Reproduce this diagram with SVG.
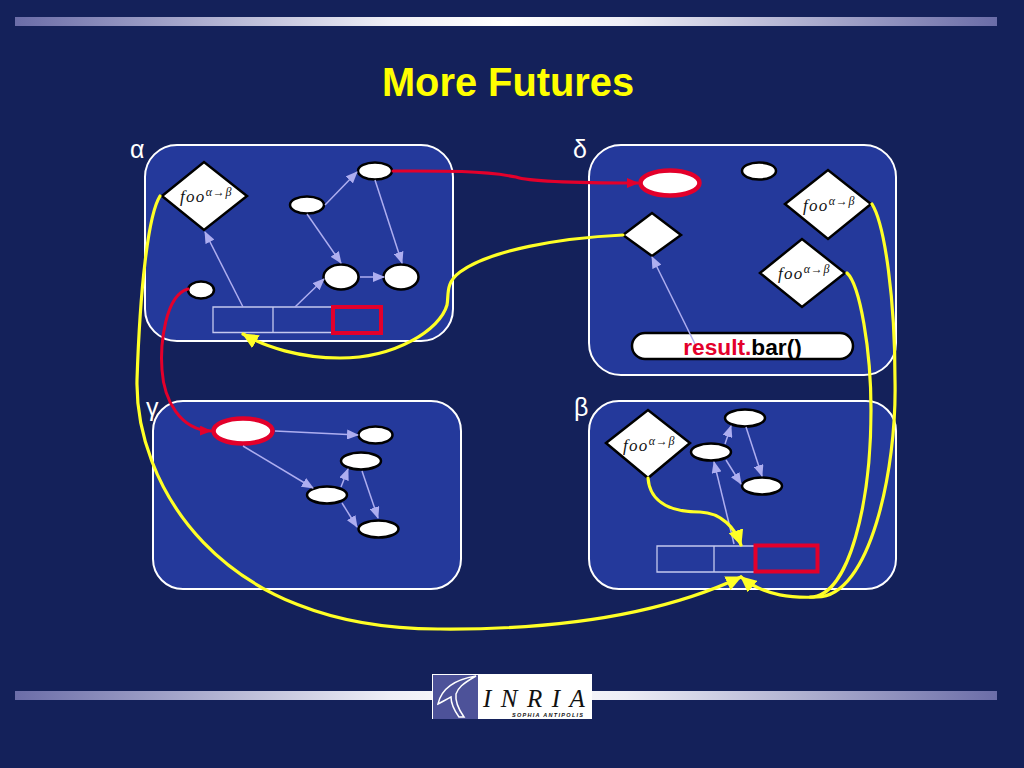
<svg xmlns="http://www.w3.org/2000/svg" width="1024" height="768" viewBox="0 0 1024 768">
<style>
.panel{fill:#24399b;stroke:#fff;stroke-width:2}
.n{fill:#fff;stroke:#000;stroke-width:2.5}
.hot{fill:#fff;stroke:#e3002b;stroke-width:4.5}
.e{fill:none;stroke:#aeaef0;stroke-width:1.500;marker-end:url(#la)}
.q{fill:none;stroke:#c4c8ee;stroke-width:1.300}
.qr{fill:none;stroke:#e3002b;stroke-width:4}
.y{fill:none;stroke:#ffff26;stroke-width:3.200;stroke-linecap:round}
.r{fill:none;stroke:#e3002b;stroke-width:3;stroke-linecap:round}
.g{font-family:"Liberation Sans",sans-serif;font-size:25px;fill:#fff}
.f{font-family:"Liberation Serif",serif;font-style:italic;font-size:17px;letter-spacing:1.300px;fill:#111}
.f tspan{font-size:12px;letter-spacing:.8px}
</style>
<defs>
<linearGradient id="bar"><stop offset="0" stop-color="#6b6da8"/><stop offset=".38" stop-color="#eeeef6"/><stop offset=".5" stop-color="#fff"/><stop offset=".62" stop-color="#eeeef6"/><stop offset="1" stop-color="#6b6da8"/></linearGradient>
<marker id="la" markerWidth="12" markerHeight="10" refX="11" refY="5" orient="auto" markerUnits="userSpaceOnUse"><path d="M0,0L12,5L0,10Z" fill="#aeaef0"/></marker>
<marker id="ya" markerWidth="17" markerHeight="15" refX="15" refY="7.5" orient="auto" markerUnits="userSpaceOnUse"><path d="M0,0L16,7.500L0,15Z" fill="#ffff26"/></marker>
<marker id="ra" markerWidth="12" markerHeight="10" refX="11" refY="5" orient="auto" markerUnits="userSpaceOnUse"><path d="M0,0L12,5L0,10Z" fill="#e3002b"/></marker>
</defs>
<rect width="1024" height="768" fill="#14215a"/>
<rect x="15" y="17" width="982" height="9" fill="url(#bar)"/>
<rect x="15" y="691" width="982" height="9" fill="url(#bar)"/>
<text x="508" y="96" text-anchor="middle" font-family="Liberation Sans,sans-serif" font-weight="bold" font-size="39.8" fill="#ffff00">More Futures</text>
<rect class="panel" x="145" y="145" width="308" height="196" rx="32"/>
<rect class="panel" x="589" y="145" width="307" height="230" rx="32"/>
<rect class="panel" x="153" y="401" width="308" height="188" rx="30"/>
<rect class="panel" x="589" y="401" width="307" height="188" rx="30"/>
<text class="g" x="130" y="158">α</text>
<text class="g" x="573" y="158">δ</text>
<text class="g" x="146" y="416">γ</text>
<text class="g" x="574" y="416">β</text>
<g id="alpha">
<g id="a-foo"><polygon class="n" points="162,196 204,162 247,196 204,230"/><text class="f" x="180" y="202">foo<tspan dy="-6">α→β</tspan></text></g>
<ellipse id="a1" class="n" cx="375" cy="171" rx="17" ry="8.5"/>
<ellipse id="a2" class="n" cx="307" cy="205" rx="17" ry="8.5"/>
<ellipse id="a3" class="n" cx="341" cy="277" rx="17.5" ry="12.5"/>
<ellipse id="a4" class="n" cx="401" cy="277" rx="17.5" ry="12.5"/>
<ellipse id="a5" class="n" cx="201" cy="290" rx="13" ry="8.5"/>
<g id="a-queue"><path class="q" d="M333,307H213V332.500H333M273,307V332.500"/><rect class="qr" x="333" y="307" width="48" height="26"/></g>
</g>
<g id="delta">
<ellipse id="d1" class="hot" cx="670" cy="183" rx="29.500" ry="12.500"/>
<ellipse id="d2" class="n" cx="759" cy="171" rx="17" ry="8.5"/>
<polygon id="d3" class="n" points="623,235 652,213 681,235 652,256"/>
<g id="d-foo1"><polygon class="n" points="785,204 828,170 871,204 828,239"/><text class="f" x="803" y="211">foo<tspan dy="-6">α→β</tspan></text></g>
<g id="d-foo2"><polygon class="n" points="760,273 802,239 845,273 802,307"/><text class="f" x="778" y="279">foo<tspan dy="-6">α→β</tspan></text></g>
<g id="d-call"><rect class="n" x="632" y="333" width="221" height="26" rx="13"/><text x="742.500" y="354.500" text-anchor="middle" font-family="Liberation Sans,sans-serif" font-weight="bold" font-size="22.700"><tspan fill="#e3002b">result.</tspan>bar()</text></g>
</g>
<g id="gamma">
<ellipse id="g1" class="hot" cx="243" cy="431" rx="29.500" ry="12.500"/>
<ellipse id="g2" class="n" cx="375.500" cy="435" rx="17" ry="8.500"/>
<ellipse id="g3" class="n" cx="361" cy="461" rx="20" ry="8.500"/>
<ellipse id="g4" class="n" cx="327" cy="495" rx="20" ry="8.500"/>
<ellipse id="g5" class="n" cx="378.500" cy="529" rx="20" ry="8.500"/>
</g>
<g id="beta">
<g id="b-foo"><polygon class="n" points="606,443 648,410 690,443 648,478"/><text class="f" x="623" y="451">foo<tspan dy="-6">α→β</tspan></text></g>
<ellipse id="b1" class="n" cx="745" cy="418" rx="20" ry="8.500"/>
<ellipse id="b2" class="n" cx="711" cy="452" rx="20" ry="8.500"/>
<ellipse id="b3" class="n" cx="762" cy="486" rx="20" ry="8.500"/>
<g id="b-queue"><path class="q" d="M755,546H657V572H755M714,546V572"/><rect class="qr" x="755.500" y="545.500" width="62" height="26"/></g>
</g>
<g id="connectors">
<path class="e" d="M243,307L205,232"/>
<path class="e" d="M295,307L324,279"/>
<path class="e" d="M360,277H384"/>
<path class="e" d="M325,205L357,172"/>
<path class="e" d="M307,214L341,263"/>
<path class="e" d="M375,180L402,263"/>
<path class="e" d="M695,344L652,257"/>
<path class="e" d="M275,431L358,435"/>
<path class="e" d="M243,446L313,488"/>
<path class="e" d="M341,487L348,469"/>
<path class="e" d="M342,503L357,527"/>
<path class="e" d="M362,471L378,518"/>
<path class="e" d="M725,444L731,426"/>
<path class="e" d="M726,460L741,484"/>
<path class="e" d="M746,427L762,476"/>
<path class="e" d="M734,544L714,462"/>
<path class="r" marker-end="url(#ra)" d="M393,171C430,171 480,170 516,177C530,182 600,183 638,183"/>
<path class="r" marker-end="url(#ra)" d="M188,289C165,295 160,345 162,370C164,400 180,430 211,431"/>
<path class="y" marker-end="url(#ya)" d="M623,235C560,238 490,250 460,272C445,283 449,295 447,305C440,330 395,358 340,358C300,358 265,347 243,334"/>
<path class="y" marker-end="url(#ya)" d="M648,478C650,505 675,512 700,512C722,513 735,528 741,545"/>
<path class="y" marker-end="url(#ya)" d="M160,196C148,215 140,290 137,380C135,480 215,630 440,629C560,630 660,615 741,577"/>
<path class="y" marker-end="url(#ya)" d="M872,204C885,225 895,300 895,380C897,470 870,597 817,597C795,598 765,597 741,577"/>
<path class="y" d="M847,273C860,285 871,350 871,410C871,500 850,597 810,597"/>
</g>
<g id="logo">
<rect x="432" y="674" width="160" height="45" fill="#fff"/>
<rect x="433" y="675" width="45" height="44" fill="#4d5299"/>
<path d="M438,704C441,690 452,680 476,676C462,684 458,688 456,694C455,702 459,710 464,717H459C454,710 451,703 451,697C447,699 442,702 438,704Z" fill="none" stroke="#fff" stroke-width="1.500"/>
<text x="483" y="707" font-family="Liberation Serif,serif" font-style="italic" font-size="25" letter-spacing="9.500" fill="#111">INRIA</text>
<text x="512" y="717" font-family="Liberation Sans,sans-serif" font-weight="bold" font-style="italic" font-size="5.500" letter-spacing="1.300" fill="#111">SOPHIA ANTIPOLIS</text>
</g>
</svg>
